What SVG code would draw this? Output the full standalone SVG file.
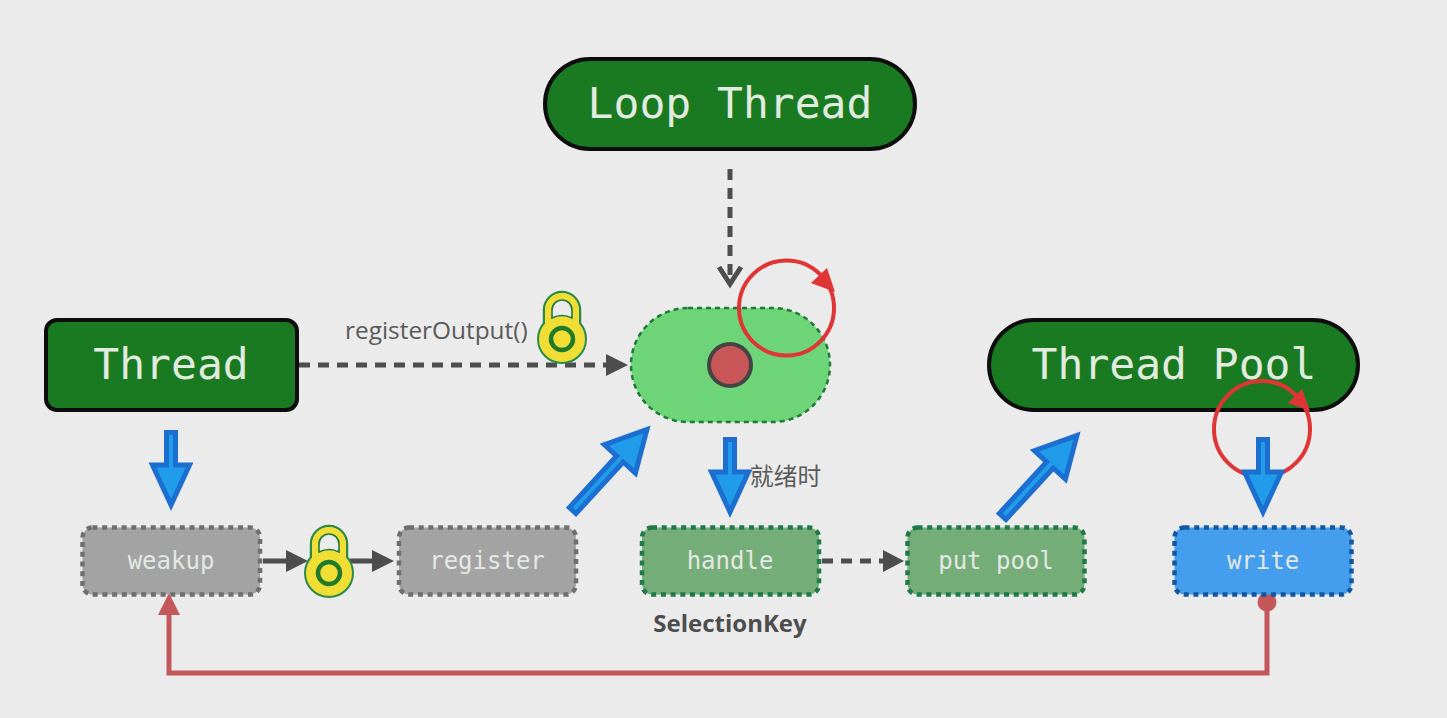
<svg xmlns="http://www.w3.org/2000/svg" width="1447" height="718" viewBox="0 0 1447 718">
<defs>
<style>
.big{font-family:"DejaVu Sans Mono",monospace;font-size:43px;fill:#e2ebdf;text-anchor:middle}
.small{font-family:"DejaVu Sans Mono",monospace;font-size:24px;text-anchor:middle;fill:#e4e8e4}
.lbl{font-family:"Open Sans","Noto Sans CJK SC",sans-serif;font-size:24.4px;fill:#5a5a5a}
.dark{fill:#1a7a22;stroke:#0d0d0d;stroke-width:4}
.task{stroke-width:4.5;stroke-dasharray:5 4.7}
.conn{fill:none;stroke:#4d4d4d;stroke-width:5}
.blue{fill:#209ceb;stroke:#1c6fd0;stroke-width:5}
.spin{fill:none;stroke:#e03535;stroke-width:4}
</style>
<g id="lock-shape">
<rect x="-18" y="-47" width="36" height="50" rx="18" fill="#f0de34" stroke="#2a8a4a" stroke-width="2.5"/>
<circle r="24" fill="#f0de34" stroke="#2a8a4a" stroke-width="2"/>
<rect x="-17" y="-46" width="34" height="50" rx="17" fill="#f0de34"/>
<path d="M-10 -21V-29A10 10 0 0 1 10 -29V-21Q0 -26 -10 -21Z" fill="#ebebeb" stroke="#1f7a3a" stroke-width="1.6"/>
<circle r="11" fill="#f0de34" stroke="#1f7a2a" stroke-width="4.5"/>
</g>
<path id="down" class="blue" d="M-4.5 -76.5H4.5V-44H18.5L0 -4L-18.5 -44H-4.5Z"/>
<path id="diag" class="blue" d="M-4.5 116H4.5V46H21L0 6L-21 46H-4.5Z"/>
</defs>
<rect width="1447" height="718" fill="#ebebeb"/>
<g id="connectors">
<path class="conn" stroke-dasharray="11 8" d="M299 365H608"/>
<path d="M606 354L628 365L606 376Z" fill="#4d4d4d"/>
<path class="conn" stroke-dasharray="11 8" d="M730 169V282"/>
<path d="M719 267L730 284L741 267" fill="none" stroke="#4d4d4d" stroke-width="5"/>
<path class="conn" d="M263 561H288"/>
<path d="M286 550L308 561L286 572Z" fill="#4d4d4d"/>
<path class="conn" d="M350 561H374"/>
<path d="M372 550L394 561L372 572Z" fill="#4d4d4d"/>
<path class="conn" stroke-dasharray="11 8" d="M822 561H885"/>
<path d="M883 550L904 561L883 572Z" fill="#4d4d4d"/>
<path d="M1267 602V673H169V612" fill="none" stroke="#c4575a" stroke-width="5"/>
<path d="M158 615L169 593L180 615Z" fill="#c4575a"/>
<circle cx="1267" cy="602" r="9.5" fill="#c4575a"/>
</g>
<g id="loop-thread"><rect class="dark" x="545" y="59" width="370" height="90" rx="45"/><text class="big" x="730" y="118">Loop Thread</text></g>
<g id="thread"><rect class="dark" x="46" y="320" width="251" height="90" rx="11"/><text class="big" x="171" y="379">Thread</text></g>
<g id="thread-pool"><rect class="dark" x="989" y="320" width="369" height="90" rx="45"/><text class="big" x="1174" y="379">Thread Pool</text></g>
<g id="selector"><rect x="631" y="308" width="199" height="114" rx="57" fill="#6dd578" stroke="#1f7a3a" stroke-width="2.5" stroke-dasharray="5 4"/>
<circle cx="730" cy="365" r="21" fill="#c95659" stroke="#444" stroke-width="4"/></g>
<g id="lock-1"><use href="#lock-shape" x="562" y="339"/></g>
<g id="lock-2"><use href="#lock-shape" x="329" y="573"/></g>
<g id="weakup"><rect class="task" x="82.5" y="527.5" width="177.5" height="67" rx="10" fill="#a3a3a3" stroke="#6e6e6e"/><text class="small" x="171" y="569">weakup</text></g>
<g id="register"><rect class="task" x="399" y="527.5" width="177" height="67" rx="10" fill="#a3a3a3" stroke="#6e6e6e"/><text class="small" x="487" y="569">register</text></g>
<g id="handle"><rect class="task" x="642" y="527.5" width="177" height="67" rx="10" fill="#74ad78" stroke="#1f7a4a"/><text class="small" x="730" y="569">handle</text></g>
<g id="put-pool"><rect class="task" x="907.5" y="527.5" width="177" height="67" rx="10" fill="#74ad78" stroke="#1f7a4a"/><text class="small" x="996" y="569">put pool</text></g>
<g id="write"><rect class="task" x="1174.5" y="527.5" width="177" height="67" rx="10" fill="#449ded" stroke="#12589e"/><text class="small" x="1263" y="569">write</text></g>
<g id="labels">
<text class="lbl" x="345" y="339">registerOutput()</text>
<text class="lbl" x="750" y="485" style="font-size:23.7px">就绪时</text>
<text x="730" y="632" text-anchor="middle" font-family="Open Sans,sans-serif" font-weight="700" font-size="24" fill="#4d4d4d">SelectionKey</text>
</g>
<g id="spin-1"><circle class="spin" cx="786.5" cy="308" r="47.5"/><path d="M811 283L827 268L835 292Z" fill="#e03535"/></g>
<g id="spin-2"><circle class="spin" cx="1262" cy="429" r="48"/><path d="M1288 403L1302 389L1310 411Z" fill="#e03535"/></g>
<g id="arrows">
<use href="#down" x="171" y="509"/>
<use href="#down" x="730" y="516"/>
<use href="#down" x="1263" y="516"/>
<use href="#diag" transform="translate(651 425) rotate(42.5)"/>
<use href="#diag" transform="translate(1081 431) rotate(42.5)"/>
</g>
</svg>
